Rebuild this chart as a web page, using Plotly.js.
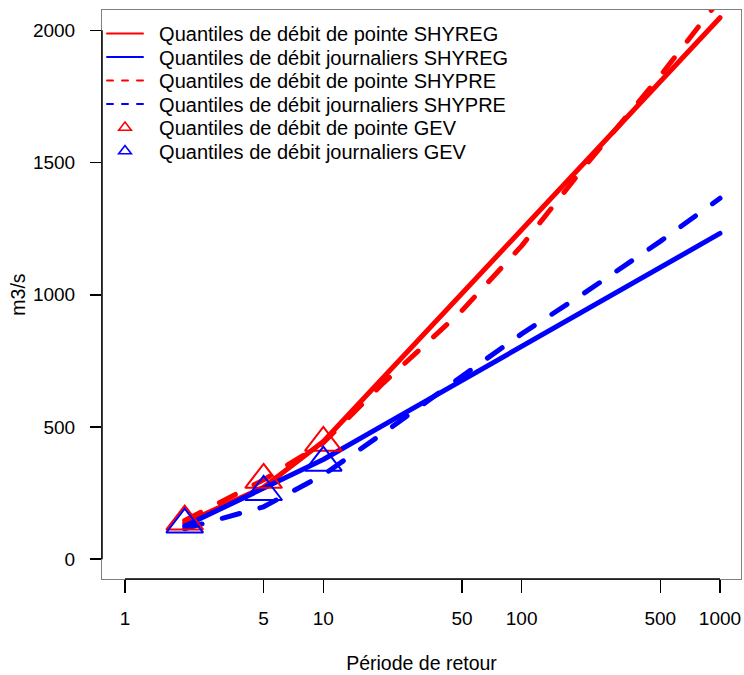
<!DOCTYPE html>
<html>
<head>
<meta charset="utf-8">
<script src="https://cdn.plot.ly/plotly-3.0.1.min.js"></script>
<style>
  html, body { margin: 0; padding: 0; background: #ffffff; }
  #chart { width: 744px; height: 675px; }
  /* rounded ends on curve strokes and dashes */
  #chart .js-line { stroke-linecap: round; stroke-linejoin: round; }
</style>
</head>
<body>
<div id="chart"></div>
<script>
// Return periods (years) at which the regional quantiles are given
const periods = [2, 5, 10, 20, 50, 100, 200, 500, 1000];

// SHYREG quantiles (m3/s)
const pointeShyreg = [136, 272, 445, 688, 1006, 1246, 1487, 1806, 2048];
const journShyreg  = [125, 266, 377, 506, 676, 805, 933, 1104, 1232];

// SHYPRE quantiles (m3/s)
const pointeShypre = [146, 300, 440, 665, 940, 1185, 1470, 1828, 2118];
const journShypre  = [115, 198, 319, 476, 692, 852, 999, 1202, 1365];

// Local GEV fit quantiles (m3/s)
const gevPeriods = [2, 5, 10];
const pointeGev  = [142, 300, 440];
const journGev   = [131, 254, 365];

// Axis ticks
const xTicks = [1, 5, 10, 50, 100, 500, 1000];
const xTickText = ['1', '5', '10', '50', '100', '500', '1000'];
const yTicks = [0, 500, 1000, 1500, 2000];

// Legend labels
const legendLabels = [
  'Quantiles de débit de pointe SHYREG',
  'Quantiles de débit journaliers SHYREG',
  'Quantiles de débit de pointe SHYPRE',
  'Quantiles de débit journaliers SHYPRE',
  'Quantiles de débit de pointe GEV',
  'Quantiles de débit journaliers GEV'
];

const RED = '#ff0000';
const BLUE = '#0000ff';
const FONT = 'Liberation Sans, Arial, sans-serif';
const DASH_PLOT = '18px,21px';
const DASH_KEY = '6px,9px';

function curve(y, color, dash) {
  return {
    x: periods, y: y, type: 'scatter', mode: 'lines',
    line: { color: color, width: 5, dash: dash },
    showlegend: false, hoverinfo: 'skip'
  };
}
function points(y, color) {
  return {
    x: gevPeriods, y: y, type: 'scatter', mode: 'markers',
    marker: { symbol: 'triangle-up-open', size: 32, color: color, line: { width: 2, color: color } },
    showlegend: false, hoverinfo: 'skip'
  };
}
// Legend-only keys (thin lines, small triangles)
function keyLine(i, color, dash) {
  return {
    x: [null], y: [null], type: 'scatter', mode: 'lines',
    name: '\u00a0\u00a0' + legendLabels[i],
    line: { color: color, width: 2, dash: dash },
    legend: i === 0 ? 'legend' : 'legend' + (i + 1)
  };
}
function keyMarker(i, color) {
  return {
    x: [null], y: [null], type: 'scatter', mode: 'markers',
    name: '\u00a0\u00a0' + legendLabels[i],
    marker: { symbol: 'triangle-up-open', size: 11, color: color, line: { width: 1.6, color: color } },
    legend: 'legend' + (i + 1)
  };
}

const traces = [
  curve(pointeShyreg, RED, 'solid'),
  curve(journShyreg, BLUE, 'solid'),
  curve(pointeShypre, RED, DASH_PLOT),
  curve(journShypre, BLUE, DASH_PLOT),
  points(pointeGev, RED),
  points(journGev, BLUE),
  keyLine(0, RED, 'solid'),
  keyLine(1, BLUE, 'solid'),
  keyLine(2, RED, DASH_KEY),
  keyLine(3, BLUE, DASH_KEY),
  keyMarker(4, RED),
  keyMarker(5, BLUE)
];

const M = { l: 102, r: 3, t: 10, b: 96 };
const plotH = 675 - M.t - M.b;
const rowTop = 33.5, rowStep = 23.5;

const layout = {
  width: 744, height: 675,
  margin: M,
  paper_bgcolor: '#ffffff', plot_bgcolor: '#ffffff',
  font: { family: FONT, size: 19, color: '#000000' },
  showlegend: true,
  xaxis: {
    type: 'log', range: [-0.116, 3.106],
    tickvals: xTicks, ticktext: xTickText,
    ticks: 'outside', ticklen: 13, tickwidth: 1.5, tickcolor: '#000000',
    showgrid: false, zeroline: false,
    showline: true, mirror: true, linecolor: '#7f7f7f', linewidth: 1,
    tickfont: { family: FONT, size: 19 },
    ticklabelstandoff: 9,
    title: { text: 'Période de retour', font: { family: FONT, size: 19.5 }, standoff: 28 }
  },
  yaxis: {
    range: [-75, 2077],
    tickvals: yTicks,
    ticks: 'outside', ticklen: 11, tickwidth: 1.5, tickcolor: '#000000',
    showgrid: false, zeroline: false,
    showline: true, mirror: true, linecolor: '#7f7f7f', linewidth: 1,
    tickfont: { family: FONT, size: 19 },
    ticklabelstandoff: 11,
    title: { text: 'm3/s', font: { family: FONT, size: 19.5 }, standoff: 2 }
  },
  shapes: [
    { type: 'line', xref: 'x', yref: 'paper', x0: xTicks[0], x1: xTicks[xTicks.length - 1], y0: 0, y1: 0,
      line: { color: '#000000', width: 1.5 } },
    { type: 'line', xref: 'paper', yref: 'y', x0: 0, x1: 0, y0: yTicks[0], y1: yTicks[yTicks.length - 1],
      line: { color: '#000000', width: 1.5 } }
  ]
};

// One single-entry legend per row so the row pitch can be set freely
for (let i = 0; i < legendLabels.length; i++) {
  const key = i === 0 ? 'legend' : 'legend' + (i + 1);
  layout[key] = {
    x: 0, xanchor: 'left',
    y: 1 - (rowTop + i * rowStep - M.t) / plotH, yanchor: 'middle',
    bgcolor: 'rgba(0,0,0,0)', borderwidth: 0,
    itemwidth: 36,
    font: { family: FONT, size: 20, color: '#000000' }
  };
}

Plotly.newPlot('chart', traces, layout, { staticPlot: true, displayModeBar: false });
</script>
</body>
</html>
